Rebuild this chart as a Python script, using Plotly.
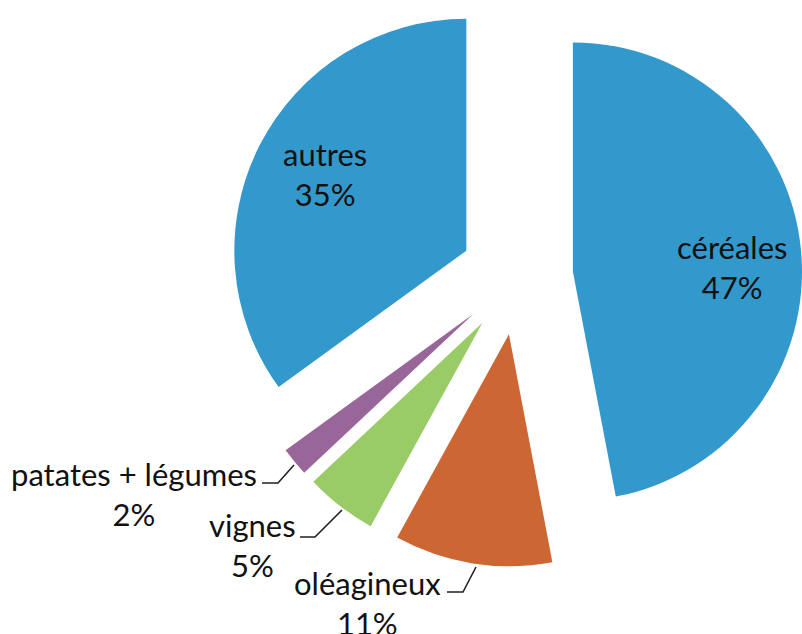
import math
import plotly.graph_objects as go

# ---- data ----
labels = ["céréales", "oléagineux", "vignes", "patates + légumes", "autres"]
shares = [47, 11, 5, 2, 35]
colors = ["#3399CC", "#CC6633", "#99CC66", "#996699", "#3399CC"]

# ---- layout / style ----
W, H = 802, 634
CX, CY = 518, 277      # pixel centre of the un-exploded pie
R = 232                # pie radius in px
EXPLODE = 0.25         # explosion as fraction of radius
FONT = "Lato"
FSIZE = 31
TEXT_COLOR = "#111111"

# label centres (px) and leader-line paths (px), per slice
label_pos = [(732, 267), (367, 603), (252, 545), (134, 494), (325, 174)]
leaders = [
    None,
    [(447, 592), (463, 592), (476, 567)],
    [(300, 537), (315, 537), (342, 510)],
    [(262, 483), (278, 483), (294, 465)],
    None,
]


def px_x(x):
    return x / W


def px_y(y):
    return 1 - y / H


fig = go.Figure()
total = sum(shares)
start = 0.0
for i, (lab, v) in enumerate(zip(labels, shares)):
    span = v / total * 360.0
    mid = math.radians(start + span / 2)
    start += span
    ax = CX + R * EXPLODE * math.sin(mid)
    ay = CY - R * EXPLODE * math.cos(mid)
    x0, x1 = max(0.0, px_x(ax - R)), min(1.0, px_x(ax + R))
    y0, y1 = max(0.0, px_y(ay + R)), min(1.0, px_y(ay - R))
    slice_colors = ["rgba(0,0,0,0)"] * len(shares)
    slice_colors[i] = colors[i]
    fig.add_trace(go.Pie(
        labels=labels,
        values=shares,
        sort=False,
        direction="clockwise",
        rotation=0,
        marker=dict(colors=slice_colors, line=dict(width=0)),
        textinfo="none",
        hoverinfo="label+percent",
        domain=dict(x=[x0, x1], y=[y0, y1]),
        showlegend=False,
    ))

annotations = []
for lab, v, (lx, ly) in zip(labels, shares, label_pos):
    annotations.append(dict(
        x=px_x(lx), y=px_y(ly), xref="paper", yref="paper",
        text=f"{lab}<br>{v}%", showarrow=False,
        xanchor="center", yanchor="middle", align="center",
        font=dict(family=FONT, size=FSIZE, color=TEXT_COLOR),
    ))

shapes = []
for pts in leaders:
    if not pts:
        continue
    path = "M " + " L ".join(f"{px_x(x)},{px_y(y)}" for x, y in pts)
    shapes.append(dict(type="path", path=path, xref="paper", yref="paper",
                       line=dict(color="#222222", width=1.6)))

fig.update_layout(
    width=W, height=H,
    margin=dict(l=0, r=0, t=0, b=0),
    paper_bgcolor="white", plot_bgcolor="white",
    annotations=annotations,
    shapes=shapes,
    showlegend=False,
)

fig.write_html(
    "out.html",
    config={"displayModeBar": False},
    post_script="document.body.style.margin='0';document.body.style.overflow='hidden';",
)
